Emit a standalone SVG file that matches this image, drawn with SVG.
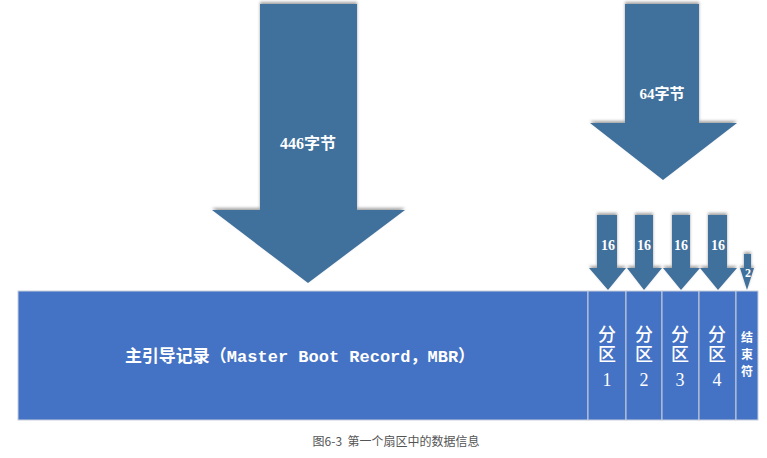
<svg xmlns="http://www.w3.org/2000/svg" width="767" height="458" viewBox="0 0 767 458">
<defs>
<filter id="sh" x="-10%" y="-10%" width="120%" height="120%">
<feDropShadow dx="0" dy="-2" stdDeviation="1.5" flood-color="#9a9a9a" flood-opacity="0.9"/>
</filter>
<style>
.arrow{fill:#41719C;filter:url(#sh)}
.box{fill:#4472C4;stroke:#c8d0dc;stroke-width:1}
.lbl{fill:#ffffff;font-family:"Liberation Serif","Noto Sans CJK SC",serif;font-weight:bold;text-anchor:middle}
.pl{fill:#ffffff;font-family:"Liberation Serif","Noto Sans CJK SC",serif;font-weight:500;text-anchor:middle}
.main{fill:#ffffff;font-family:"Liberation Mono","Noto Sans CJK SC",monospace;font-weight:bold;font-size:17px;text-anchor:middle}
.cap{fill:#555555;font-family:"Noto Sans CJK SC","Noto Sans",sans-serif;font-size:12px;text-anchor:middle}
</style>
</defs>
<rect width="767" height="458" fill="#ffffff"/>
<g id="connectors">
<polygon id="arrow446" class="arrow" points="260,4 357,4 357,210 405,210 308,283 212,210 260,210"/>
<polygon id="arrow64" class="arrow" points="625,4 699,4 699,123 737,123 663,180 590,123 625,123"/>
<polygon id="arrowP1" class="arrow" points="597,215 617,215 617,268 626,268 608,290 589,268 597,268"/>
<polygon id="arrowP2" class="arrow" points="635,215 653,215 653,268 662,268 644,290 627,268 635,268"/>
<polygon id="arrowP3" class="arrow" points="672,215 690,215 690,268 700,268 681,290 663,268 672,268"/>
<polygon id="arrowP4" class="arrow" points="708,215 727,215 727,268 737,268 718,290 700,268 708,268"/>
<polygon id="arrowEnd" class="arrow" points="744,254 751,254 751,268 754,268 747,290 740,268 744,268"/>
</g>
<text class="lbl" x="308" y="149" font-size="16">446字节</text>
<text class="lbl" x="662" y="99" font-size="15">64字节</text>
<text class="lbl" x="608" y="250" font-size="14">16</text>
<text class="lbl" x="644" y="250" font-size="14">16</text>
<text class="lbl" x="681" y="250" font-size="14">16</text>
<text class="lbl" x="718" y="250" font-size="14">16</text>
<text class="lbl" x="748" y="277" font-size="12">2</text>
<g id="mbr">
<rect class="box" x="18" y="291" width="570" height="129"/>
<text class="main" x="300" y="362">主引导记录（Master Boot Record，MBR）</text>
</g>
<g id="p1">
<rect class="box" x="588" y="291" width="38" height="129"/>
<text class="pl" x="607" y="341" font-size="18">分</text>
<text class="pl" x="607" y="361" font-size="18">区</text>
<text class="pl" x="607" y="386" font-size="18">1</text>
</g>
<g id="p2">
<rect class="box" x="626" y="291" width="36" height="129"/>
<text class="pl" x="644" y="341" font-size="18">分</text>
<text class="pl" x="644" y="361" font-size="18">区</text>
<text class="pl" x="644" y="386" font-size="18">2</text>
</g>
<g id="p3">
<rect class="box" x="662" y="291" width="37" height="129"/>
<text class="pl" x="680" y="341" font-size="18">分</text>
<text class="pl" x="680" y="361" font-size="18">区</text>
<text class="pl" x="680" y="386" font-size="18">3</text>
</g>
<g id="p4">
<rect class="box" x="699" y="291" width="37" height="129"/>
<text class="pl" x="717" y="341" font-size="18">分</text>
<text class="pl" x="717" y="361" font-size="18">区</text>
<text class="pl" x="717" y="386" font-size="18">4</text>
</g>
<g id="end">
<rect class="box" x="736" y="291" width="22" height="129"/>
<text class="lbl" x="747" y="342" font-size="12">结</text>
<text class="lbl" x="747" y="359" font-size="12">束</text>
<text class="lbl" x="747" y="376" font-size="12">符</text>
</g>
<text class="cap" x="396" y="446">图6-3&#160;&#160;第一个扇区中的数据信息</text>
</svg>
